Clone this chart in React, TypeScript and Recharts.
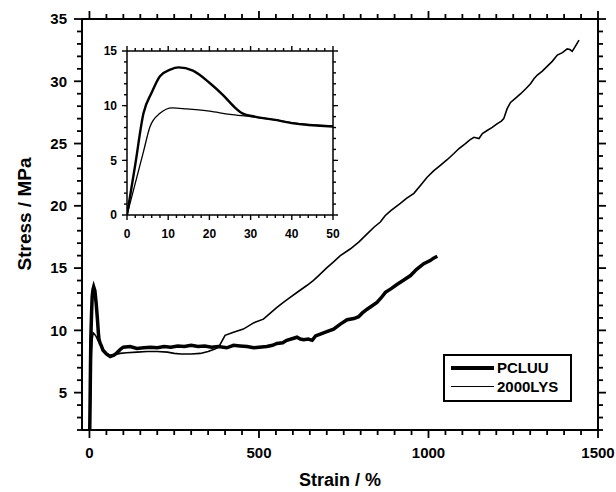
import { LineChart, Line, XAxis, YAxis } from "recharts";

// PCLUU (thick curve)
const PCLUU_STRAIN = [
  0, 2, 4, 6, 8, 10.5, 12.5, 16, 20, 23.5, 26, 28, 31, 36, 40, 50, 61, 72, 81,
  92, 100, 120, 140, 160, 180, 200, 220, 240, 260, 280, 300, 320, 340, 360, 380,
  405, 425, 444, 465, 484, 500, 523, 540, 553, 570, 582, 600, 612, 622, 632, 645,
  657, 667, 681, 700, 720, 740, 760, 780, 794, 805, 819, 835, 848, 860, 873, 890,
  908, 925, 947, 965, 986, 1005, 1015, 1026,
];
const PCLUU_STRESS = [
  0, 4.6, 9.3, 11.2, 12.7, 13.3, 13.5, 13.2, 12.1, 10.9, 9.9, 9.3, 9.0, 8.7, 8.4,
  8.1, 7.9, 8.0, 8.2, 8.5, 8.65, 8.7, 8.55, 8.6, 8.65, 8.6, 8.7, 8.65, 8.75, 8.7,
  8.8, 8.7, 8.75, 8.65, 8.7, 8.6, 8.8, 8.75, 8.7, 8.6, 8.65, 8.7, 8.8, 8.95, 9.0,
  9.2, 9.35, 9.45, 9.3, 9.25, 9.3, 9.2, 9.55, 9.7, 9.9, 10.1, 10.5, 10.85, 10.95,
  11.1, 11.4, 11.7, 12.0, 12.25, 12.6, 13.05, 13.35, 13.7, 14.0, 14.4, 14.9,
  15.35, 15.6, 15.8, 15.95,
];

// 2000LYS (thin curve)
const LYS_STRAIN = [
  0, 2, 4, 5.6, 8, 11, 14.5, 20, 25, 30, 36, 40, 50, 60, 75, 90, 110, 140, 170,
  200, 230, 250, 270, 300, 327, 350, 370, 381, 392, 400, 425, 454, 484, 513, 530,
  553, 572, 592, 615, 641, 660, 676, 699, 720, 740, 770, 795, 819, 840, 858, 872,
  888, 917, 935, 957, 978, 996, 1015, 1035, 1055, 1075, 1090, 1109, 1122, 1134,
  1149, 1159, 1173, 1188, 1203, 1215, 1222, 1232, 1242, 1257, 1272, 1287, 1301,
  1311, 1321, 1335, 1350, 1365, 1380, 1395, 1409, 1417, 1424, 1433, 1444,
];
const LYS_STRESS = [
  0, 2.9, 5.8, 8.1, 9.3, 9.8, 9.7, 9.5, 9.2, 9.0, 8.7, 8.45, 8.15, 8.0, 8.05,
  8.15, 8.2, 8.25, 8.3, 8.3, 8.25, 8.15, 8.1, 8.1, 8.15, 8.3, 8.5, 8.65, 9.2, 9.6,
  9.85, 10.1, 10.6, 10.9, 11.3, 11.85, 12.25, 12.65, 13.1, 13.6, 14.0, 14.4, 15.0,
  15.5, 16.0, 16.55, 17.1, 17.75, 18.3, 18.7, 19.2, 19.6, 20.2, 20.6, 21.0, 21.7,
  22.3, 22.8, 23.25, 23.7, 24.2, 24.6, 25.0, 25.3, 25.5, 25.4, 25.8, 26.05, 26.3,
  26.6, 26.8, 27.0, 27.8, 28.3, 28.65, 29.0, 29.4, 29.8, 30.2, 30.5, 30.8, 31.2,
  31.6, 32.1, 32.3, 32.6, 32.55, 32.4, 32.8, 33.3,
];

const SERIES_NAMES = ["PCLUU", "2000LYS"];

// axis tick labels
const MAIN_X_MAJOR = [0, 500, 1000, 1500];
const MAIN_Y_MAJOR = [5, 10, 15, 20, 25, 30, 35];
const INSET_X_MAJOR = [0, 10, 20, 30, 40, 50];
const INSET_Y_MAJOR = [0, 5, 10, 15];

const FONT = '"Liberation Sans", Arial, Helvetica, sans-serif';

const range = (start: number, end: number, step: number) => {
  const out: number[] = [];
  for (let v = start; v <= end; v += step) out.push(v);
  return out;
};

const MAIN_X_TICKS = range(0, 1500, 50);
const MAIN_Y_TICKS = range(2, 35, 1);
const INSET_X_TICKS = range(0, 50, 2);
const INSET_Y_TICKS = range(0, 15, 1);

const pclluData = PCLUU_STRAIN.map((x, i) => ({ strain: x, stress: PCLUU_STRESS[i] }));
const lysData = LYS_STRAIN.map((x, i) => ({ strain: x, stress: LYS_STRESS[i] }));
const pclluInset = pclluData.filter((d) => d.strain <= 50);
const lysInset = lysData.filter((d) => d.strain <= 50);

type Side = "bottom" | "top" | "left" | "right";

interface TickOpts {
  extra: number; // how much longer a major tick is than a minor one
  label: boolean;
  fontSize: number;
  gap: number;
  width: number;
}

// recharts draws the minor-length tick line; this adds the major extension + label
const makeTick = (side: Side, majors: number[], opts: TickOpts) => (props: any) => {
  const x = Number(props.x);
  const y = Number(props.y);
  const v = props.payload.value;
  const isMajor = majors.includes(v);
  let x2 = x;
  let y2 = y;
  if (side === "bottom") y2 = y + opts.extra;
  if (side === "top") y2 = y - opts.extra;
  if (side === "left") x2 = x - opts.extra;
  if (side === "right") x2 = x + opts.extra;
  return (
    <g>
      {isMajor && (
        <path d={`M${x},${y}L${x2},${y2}`} stroke="#000" strokeWidth={opts.width} fill="none" />
      )}
      {opts.label && isMajor && side === "bottom" && (
        <text
          x={x}
          y={y + opts.gap}
          textAnchor="middle"
          fontFamily={FONT}
          fontWeight="bold"
          fontSize={opts.fontSize}
          fill="#000"
        >
          {v}
        </text>
      )}
      {opts.label && isMajor && side === "left" && (
        <text
          x={x - opts.gap}
          y={y}
          dy="0.36em"
          textAnchor="end"
          fontFamily={FONT}
          fontWeight="bold"
          fontSize={opts.fontSize}
          fill="#000"
        >
          {v}
        </text>
      )}
    </g>
  );
};

const mainTick = { extra: 3, label: true, fontSize: 15, width: 1.8 };
const insetTick = { extra: 2, label: true, fontSize: 12, width: 1.4 };
const mainLine = { stroke: "#000", strokeWidth: 1.8 };
const insetLine = { stroke: "#000", strokeWidth: 1.4 };

const ChartLegend = () => (
  <div
    style={{
      position: "absolute",
      left: 443,
      top: 354,
      width: 125,
      height: 44,
      border: "2px solid #000",
      background: "#fff",
      fontFamily: FONT,
      fontWeight: "bold",
      fontSize: 15,
    }}
  >
    {SERIES_NAMES.map((name, i) => (
      <div
        key={name}
        style={{
          position: "absolute",
          left: 6,
          top: i === 0 ? 2 : 21,
          display: "flex",
          alignItems: "center",
          height: 19,
        }}
      >
        <div
          style={{
            width: 43,
            height: i === 0 ? 4 : 1.5,
            background: "#000",
            marginRight: 3,
          }}
        />
        <span>{name}</span>
      </div>
    ))}
  </div>
);

export default function App() {
  return (
    <div style={{ position: "absolute", left: 0, top: 0, width: 616, height: 492, background: "#fff" }}>
      <LineChart
        width={616}
        height={492}
        margin={{ top: 9, right: 8, bottom: 22, left: 20 }}
      >
        <XAxis
          type="number"
          dataKey="strain"
          domain={[-22, 1500]}
          allowDataOverflow
          ticks={MAIN_X_TICKS}
          interval={0}
          tickSize={5}
          tickMargin={0}
          tickLine={mainLine}
          height={40}
          axisLine={{ stroke: "#000", strokeWidth: 2 }}
          tick={makeTick("bottom", MAIN_X_MAJOR, { ...mainTick, gap: 23 })}
          label={{
            content: () => (
              <text
                x={340}
                y={486}
                textAnchor="middle"
                fontFamily={FONT}
                fontWeight="bold"
                fontSize={18}
                fill="#000"
              >
                Strain / %
              </text>
            ),
          }}
        />
        <XAxis
          xAxisId="top"
          orientation="top"
          type="number"
          dataKey="strain"
          domain={[-22, 1500]}
          allowDataOverflow
          ticks={MAIN_X_TICKS}
          interval={0}
          tickSize={5}
          tickMargin={0}
          tickLine={mainLine}
          height={10}
          axisLine={{ stroke: "#000", strokeWidth: 2 }}
          tick={makeTick("top", MAIN_X_MAJOR, { ...mainTick, label: false, gap: 0 })}
        />
        <YAxis
          type="number"
          domain={[2, 35]}
          allowDataOverflow
          ticks={MAIN_Y_TICKS}
          interval={0}
          tickSize={5}
          tickMargin={0}
          tickLine={mainLine}
          width={62}
          axisLine={{ stroke: "#000", strokeWidth: 2 }}
          tick={makeTick("left", MAIN_Y_MAJOR, { ...mainTick, gap: 10 })}
          label={{
            content: () => (
              <text
                x={24}
                y={214}
                transform="rotate(-90 24 214)"
                textAnchor="middle"
                dy="0.36em"
                fontFamily={FONT}
                fontWeight="bold"
                fontSize={19}
                fill="#000"
              >
                Stress / MPa
              </text>
            ),
          }}
        />
        <YAxis
          yAxisId="right"
          orientation="right"
          type="number"
          domain={[2, 35]}
          allowDataOverflow
          ticks={MAIN_Y_TICKS}
          interval={0}
          tickSize={5}
          tickMargin={0}
          tickLine={mainLine}
          width={10}
          axisLine={{ stroke: "#000", strokeWidth: 2 }}
          tick={makeTick("right", MAIN_Y_MAJOR, { ...mainTick, label: false, gap: 0 })}
        />
        <Line
          data={lysData}
          dataKey="stress"
          name="2000LYS"
          type="linear"
          stroke="#000"
          strokeWidth={1.6}
          dot={false}
          isAnimationActive={false}
        />
        <Line
          data={pclluData}
          dataKey="stress"
          name="PCLUU"
          type="linear"
          stroke="#000"
          strokeWidth={3.5}
          dot={false}
          isAnimationActive={false}
        />
        {/* same PCLUU values bound to the mirrored axes so they get drawn; invisible */}
        <Line
          xAxisId="top"
          yAxisId="right"
          data={pclluData}
          dataKey="stress"
          stroke="none"
          strokeWidth={0}
          dot={false}
          legendType="none"
          isAnimationActive={false}
        />
      </LineChart>

      <ChartLegend />

      <div style={{ position: "absolute", left: 80, top: 36, width: 270, height: 210 }}>
        <LineChart width={270} height={210} margin={{ top: 10, right: 12, bottom: 3, left: 6 }}>
          <XAxis
            type="number"
            dataKey="strain"
            domain={[0, 50]}
            allowDataOverflow
            ticks={INSET_X_TICKS}
            interval={0}
            tickSize={3}
            tickMargin={0}
            tickLine={insetLine}
            height={28}
            axisLine={{ stroke: "#000", strokeWidth: 1.5 }}
            tick={makeTick("bottom", INSET_X_MAJOR, { ...insetTick, gap: 20 })}
          />
          <XAxis
            xAxisId="top"
            orientation="top"
            type="number"
            dataKey="strain"
            domain={[0, 50]}
            allowDataOverflow
            ticks={INSET_X_TICKS}
            interval={0}
            tickSize={3}
            tickMargin={0}
            tickLine={insetLine}
            height={5}
            axisLine={{ stroke: "#000", strokeWidth: 1.5 }}
            tick={makeTick("top", INSET_X_MAJOR, { ...insetTick, label: false, gap: 0 })}
          />
          <YAxis
            type="number"
            domain={[0, 15]}
            allowDataOverflow
            ticks={INSET_Y_TICKS}
            interval={0}
            tickSize={3}
            tickMargin={0}
            tickLine={insetLine}
            width={41}
            axisLine={{ stroke: "#000", strokeWidth: 1.5 }}
            tick={makeTick("left", INSET_Y_MAJOR, { ...insetTick, gap: 7 })}
          />
          <YAxis
            yAxisId="right"
            orientation="right"
            type="number"
            domain={[0, 15]}
            allowDataOverflow
            ticks={INSET_Y_TICKS}
            interval={0}
            tickSize={3}
            tickMargin={0}
            tickLine={insetLine}
            width={5}
            axisLine={{ stroke: "#000", strokeWidth: 1.5 }}
            tick={makeTick("right", INSET_Y_MAJOR, { ...insetTick, label: false, gap: 0 })}
          />
          <Line
            data={lysInset}
            dataKey="stress"
            type="monotone"
            stroke="#000"
            strokeWidth={1.3}
            dot={false}
            isAnimationActive={false}
          />
          <Line
            data={pclluInset}
            dataKey="stress"
            type="monotone"
            stroke="#000"
            strokeWidth={2.4}
            dot={false}
            isAnimationActive={false}
          />
          <Line
            xAxisId="top"
            yAxisId="right"
            data={pclluInset}
            dataKey="stress"
            stroke="none"
            strokeWidth={0}
            dot={false}
            legendType="none"
            isAnimationActive={false}
          />
        </LineChart>
      </div>
    </div>
  );
}
